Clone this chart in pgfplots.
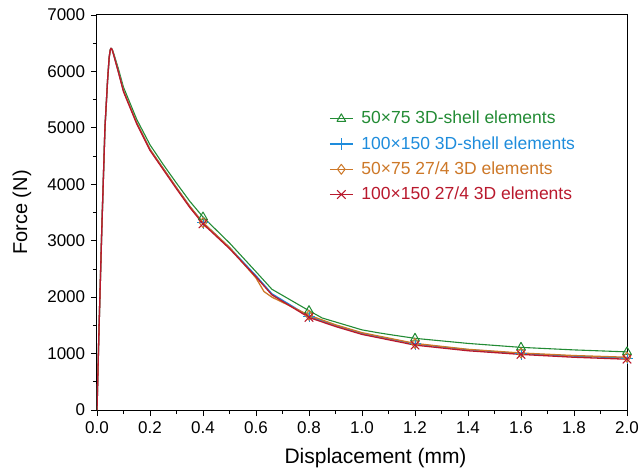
\documentclass[border=0pt]{standalone}
\usepackage{pgfplots}
\pgfplotsset{compat=1.18}
\usepackage{fontspec}
\setmainfont{Liberation Sans}
\definecolor{cgreen}{RGB}{34,139,52}
\definecolor{cblue}{RGB}{30,140,220}
\definecolor{corange}{RGB}{205,120,40}
\definecolor{cred}{RGB}{185,25,45}
\begin{document}
\fontsize{17}{20}\selectfont
\begin{tikzpicture}
\useasboundingbox (-97pt,-61pt) rectangle (545pt,410pt);
\begin{axis}[
  at={(0pt,0pt)}, anchor=south west,
  scale only axis, width=530pt, height=395pt,
  xmin=0, xmax=2, ymin=0, ymax=7000,
  xtick={0,0.2,...,2.0}, minor x tick num=1,
  ytick={0,1000,...,7000}, minor y tick num=1,
  xticklabel style={/pgf/number format/.cd, fixed, fixed zerofill, precision=1},
  yticklabel style={/pgf/number format/.cd, fixed, 1000 sep={}},
  /pgf/number format/assume math mode=true,
  scaled y ticks=false,
  tick align=outside, tick pos=left,
  major tick length=6pt, minor tick length=4pt,
  tick style={black, line width=0.8pt},
  axis line style={line width=1pt},
  xlabel={Displacement (mm)}, ylabel={Force (N)},
  xlabel style={font=\fontsize{21}{24}\selectfont, at={([yshift=-48pt]rel axis cs:0.5255,0)}, anchor=center},
  ylabel style={font=\fontsize{20}{24}\selectfont, at={([xshift=-75pt]rel axis cs:0,0.5)}, anchor=center},
  legend style={draw=none, fill=none, inner sep=0pt, at={(rel axis cs:0.4377,0.762)}, anchor=north west, font=\fontsize{17.5}{21}\selectfont, row sep=6pt, column sep=6pt},
  legend cell align=left,
  every axis plot/.append style={line width=1.3pt, line join=round},
  legend image code/.code={\draw[#1,mark indices={2}] plot coordinates {(0pt,0pt) (11.5pt,0pt) (23pt,0pt)};},
]
\addplot[cgreen, line width=1.1pt, mark=triangle, mark size=5pt, mark options={solid, line width=1pt}, mark indices={18,22,27,29,31}] coordinates {
(0,0) (0.0075,1420) (0.018,3190) (0.03,5000) (0.04,5850) (0.046,6250) (0.05,6380) (0.053,6410) (0.057,6395) (0.063,6320) (0.08,6060) (0.1,5720) (0.15,5150) (0.2,4700) (0.25,4350) (0.3,4020) (0.35,3700) (0.4,3420) (0.5,2960) (0.6,2450) (0.66,2140) (0.8,1760) (0.85,1630) (1.0,1420) (1.06,1370) (1.1,1340) (1.2,1270) (1.4,1180) (1.6,1110) (1.8,1065) (2.0,1030)
};
\addlegendentry{\textcolor{cgreen}{50×75 3D-shell elements}}
\addplot[cblue, mark=+, mark size=6pt, mark options={solid, line width=1pt}, mark indices={18,22,25,27,29}] coordinates {
(0,0) (0.0075,1420) (0.018,3190) (0.03,5000) (0.04,5850) (0.046,6250) (0.05,6380) (0.053,6410) (0.057,6390) (0.063,6300) (0.08,6010) (0.1,5660) (0.15,5090) (0.2,4620) (0.25,4280) (0.3,3940) (0.35,3610) (0.4,3320) (0.5,2880) (0.6,2380) (0.66,2060) (0.8,1660) (0.9,1500) (1.0,1360) (1.2,1170) (1.4,1070) (1.6,1000) (1.8,955) (2.0,920)
};
\addlegendentry{\textcolor{cblue}{100×150 3D-shell elements}}
\addplot[corange, mark=diamond, mark size=5pt, mark options={solid, line width=1pt}, mark indices={18,23,26,28,30}] coordinates {
(0,0) (0.0075,1420) (0.018,3190) (0.03,5000) (0.04,5850) (0.046,6250) (0.05,6380) (0.053,6410) (0.057,6390) (0.063,6300) (0.08,6010) (0.1,5660) (0.15,5090) (0.2,4620) (0.25,4280) (0.3,3940) (0.35,3610) (0.4,3320) (0.5,2880) (0.6,2340) (0.63,2100) (0.66,2000) (0.8,1680) (0.9,1510) (1.0,1370) (1.2,1180) (1.4,1075) (1.6,1010) (1.8,965) (2.0,935)
};
\addlegendentry{\textcolor{corange}{50×75 27/4 3D elements}}
\addplot[cred, mark=x, mark size=6pt, mark options={solid, line width=1.1pt}, mark indices={18,22,25,27,29}] coordinates {
(0,0) (0.0075,1420) (0.018,3190) (0.03,5000) (0.04,5850) (0.046,6250) (0.05,6380) (0.053,6410) (0.057,6385) (0.063,6290) (0.08,6000) (0.1,5640) (0.15,5070) (0.2,4600) (0.25,4260) (0.3,3920) (0.35,3590) (0.4,3300) (0.5,2860) (0.6,2360) (0.66,2040) (0.8,1640) (0.9,1480) (1.0,1340) (1.2,1150) (1.4,1050) (1.6,985) (1.8,935) (2.0,900)
};
\addlegendentry{\textcolor{cred}{100×150 27/4 3D elements}}
\end{axis}
\end{tikzpicture}
\end{document}
